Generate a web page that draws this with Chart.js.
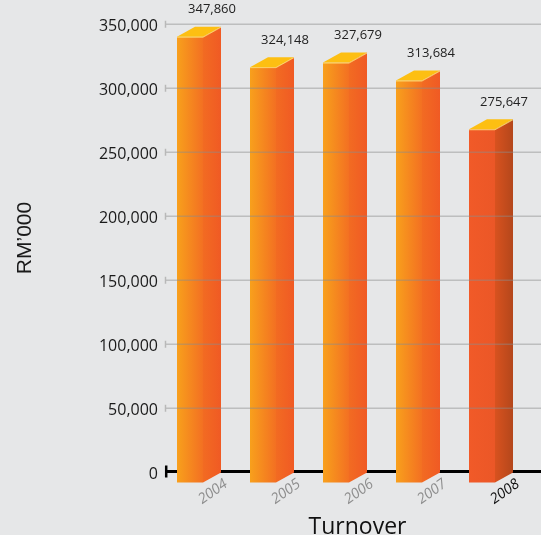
<!DOCTYPE html>
<html><head><meta charset="utf-8">
<script src="https://cdn.jsdelivr.net/npm/chart.js@4.4.1/dist/chart.umd.min.js"></script>
<style>
html,body{margin:0;padding:0;background:#e6e7e8;overflow:hidden;}
canvas{display:block;}
</style></head>
<body><canvas id="c" width="541" height="535"></canvas>
<script>
// ---- data ----
const categories = ['2004', '2005', '2006', '2007', '2008'];
const turnover = [347860, 324148, 327679, 313684, 275647];
const yTicks = [0, 50000, 100000, 150000, 200000, 250000, 300000, 350000];
const yTitle = 'RM\u2019000';
const xTitle = 'Turnover';

// ---- style ----
const BG = '#e6e7e8';
const DEPTH_X = 18, DEPTH_Y = 10;
const normalFace = ['#f8a01c', '#f37022'];
const normalSide = ['#f26b22', '#f05a24'];
const hiFace = ['#f15a28', '#eb5727'];
const hiSide = ['#d8521f', '#b4471b'];
const topColor = '#fdbf12';

function fmt(v) { return Number(v).toLocaleString('en-US'); }

const bars3d = {
  id: 'bars3d',
  beforeDraw(chart) {
    const { ctx, width, height } = chart;
    ctx.save();
    ctx.fillStyle = BG;
    ctx.fillRect(0, 0, width, height);
    ctx.restore();
  },
  beforeDatasetsDraw(chart) {
    const { ctx, width } = chart;
    const ys = chart.scales.y;
    const y0 = ys.getPixelForValue(0);
    ctx.save();
    ctx.strokeStyle = '#000';
    ctx.lineWidth = 3;
    ctx.beginPath();
    ctx.moveTo(165, y0 - 1);
    ctx.lineTo(width, y0 - 1);
    ctx.stroke();
    ctx.lineWidth = 2.5;
    ctx.beginPath();
    ctx.moveTo(166.2, y0 - 7);
    ctx.lineTo(166.2, y0 + 5);
    ctx.stroke();
    ctx.restore();
  },
  afterDatasetsDraw(chart) {
    const { ctx, width } = chart;
    const ys = chart.scales.y;
    const meta = chart.getDatasetMeta(0);
    const last = categories.length - 1;
    meta.data.forEach((bar, i) => {
      const p = bar.getProps(['x', 'y', 'base', 'width'], true);
      const w = p.width;
      const bl = p.x - w / 2, br = p.x + w / 2;      // back face
      const fl = bl - DEPTH_X, fr = br - DEPTH_X;      // front face
      const ft = p.y + DEPTH_Y, fb = p.base + DEPTH_Y;
      const face = i === last ? hiFace : normalFace;
      const side = i === last ? hiSide : normalSide;
      ctx.save();
      let g = ctx.createLinearGradient(fl, 0, fr, 0);
      g.addColorStop(0, face[0]); g.addColorStop(1, face[1]);
      ctx.fillStyle = g;
      ctx.fillRect(fl, ft, fr - fl, fb - ft);
      g = ctx.createLinearGradient(fr, 0, br, 0);
      g.addColorStop(0, side[0]); g.addColorStop(1, side[1]);
      ctx.fillStyle = g;
      ctx.beginPath();
      ctx.moveTo(fr, ft); ctx.lineTo(br, p.y); ctx.lineTo(br, p.base); ctx.lineTo(fr, fb);
      ctx.closePath(); ctx.fill();
      ctx.fillStyle = topColor;
      ctx.beginPath();
      ctx.moveTo(fl, ft); ctx.lineTo(fr, ft); ctx.lineTo(br, p.y); ctx.lineTo(bl, p.y);
      ctx.closePath(); ctx.fill();
      ctx.strokeStyle = 'rgba(255,226,120,0.8)';
      ctx.lineWidth = 1;
      ctx.beginPath(); ctx.moveTo(fl, ft + 0.5); ctx.lineTo(fr, ft + 0.5); ctx.lineTo(br, p.y + 0.5); ctx.stroke();
      ctx.restore();
    });
    ctx.save();
    yTicks.forEach(v => {
      if (v === 0) return;
      const py = Math.round(ys.getPixelForValue(v)) + 0.25;
      ctx.strokeStyle = 'rgba(140,140,140,0.45)';
      ctx.lineWidth = 1.5;
      ctx.beginPath(); ctx.moveTo(165, py); ctx.lineTo(width, py); ctx.stroke();
      ctx.strokeStyle = '#b8b8b8';
      ctx.beginPath(); ctx.moveTo(165.5, py - 3.5); ctx.lineTo(165.5, py + 3.5); ctx.stroke();
    });
    ctx.restore();
    ctx.save();
    ctx.fillStyle = '#222';
    ctx.font = '13px "Open Sans"';
    ctx.textAlign = 'center';
    ctx.textBaseline = 'middle';
    meta.data.forEach((bar, i) => {
      const p = bar.getProps(['x', 'y'], true);
      ctx.fillText(fmt(turnover[i]), p.x + 4, p.y - 17);
    });
    ctx.restore();
  },
  afterDraw(chart) {
    const { ctx, chartArea } = chart;
    ctx.save();
    ctx.fillStyle = '#111';
    ctx.font = '23px "Open Sans"';
    ctx.textAlign = 'center';
    ctx.textBaseline = 'alphabetic';
    ctx.fillText(xTitle, (chartArea.left + chartArea.right) / 2 + 3.5, 534);
    ctx.translate(25, 238);
    ctx.rotate(-Math.PI / 2);
    ctx.fillStyle = '#1a1a1a';
    ctx.font = '21px "Liberation Sans"';
    ctx.textBaseline = 'middle';
    ctx.fillText(yTitle, 0, 0);
    ctx.restore();
  }
};

new Chart(document.getElementById('c'), {
  type: 'bar',
  data: {
    labels: categories,
    datasets: [{
      data: turnover,
      backgroundColor: 'rgba(0,0,0,0)',
      borderWidth: 0,
      barThickness: 26
    }]
  },
  options: {
    responsive: false,
    animation: false,
    devicePixelRatio: 1,
    layout: { padding: { top: 24, right: 4.5, left: 0, bottom: 0 } },
    plugins: { legend: { display: false }, tooltip: { enabled: false }, title: { display: false } },
    scales: {
      x: {
        offset: true,
        afterFit: s => { s.height = 62.5; },
        grid: { display: false, drawTicks: false },
        border: { display: false },
        ticks: {
          autoSkip: false,
          minRotation: 35, maxRotation: 35,
          labelOffset: 18,
          padding: 3,
          color: c => c.index === categories.length - 1 ? '#111' : '#8e8e8e',
          font: { family: '"Open Sans"', size: 14.5, style: 'italic' }
        }
      },
      y: {
        min: 0, max: 350000,
        afterBuildTicks: s => { s.ticks = yTicks.map(v => ({ value: v })); },
        afterFit: s => { s.width = 171.5; },
        grid: { display: false, drawTicks: false },
        border: { display: false },
        ticks: {
          padding: 13.5,
          labelOffset: 2,
          color: '#1a1a1a',
          font: { family: '"Open Sans"', size: 16 },
          callback: v => fmt(v)
        }
      }
    }
  },
  plugins: [bars3d]
});
</script>
</body></html>
